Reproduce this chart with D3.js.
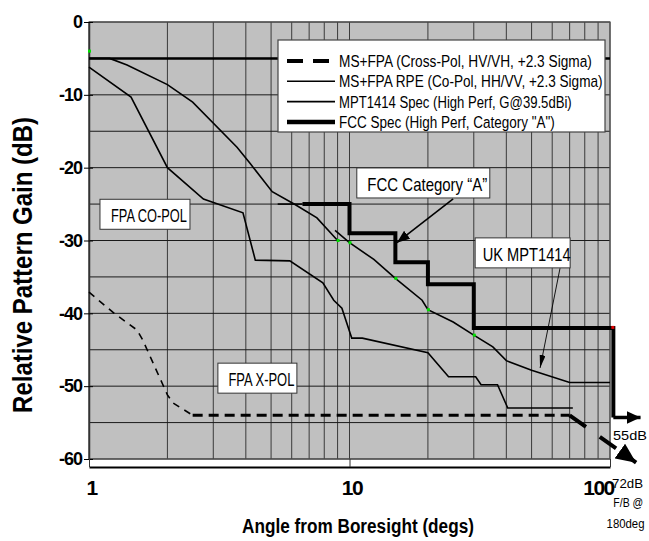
<!DOCTYPE html>
<html>
<head>
<meta charset="utf-8">
<script src="https://cdn.jsdelivr.net/npm/d3@7"></script>
<style>
  body { margin: 0; background: #fff; }
  svg { display: block; font-family: "Liberation Sans", Arial, sans-serif; }
</style>
</head>
<body>
<div id="chart"></div>
<script>
// Axis ticks
const angleTicks = [1, 10, 100];
const gainTicks = [0, -10, -20, -30, -40, -50, -60];

// [angle (deg), relative gain (dB)]
const xpolCurve = [[1, -37.1], [1.25, -40], [1.53, -42.3], [1.61, -43.7], [1.91, -49.6],
                   [2, -51.2], [2.1, -52.3], [2.5, -54]];
const xpolFloor = [[2.5, -54], [70, -54]];
const xpolBackLobe = [[70, -54], [126, -60.5]];

const rpeCoPol = [[1, -6.2], [1.45, -10.3], [2, -20], [2.75, -24.3], [3.9, -26.2], [4.35, -32.7],
                  [5.9, -32.8], [7.9, -35.8], [8.7, -38.2], [9.35, -39.3], [10.2, -43.4], [11.2, -43.4],
                  [20, -45.4], [24, -48.7], [30.5, -48.7], [32, -49.8], [37, -49.8], [40.5, -53], [72, -53]];

const mptMainBeam = [[1, -5], [1.2, -5], [1.4, -5.9], [2, -8.6], [2.5, -11], [3.7, -17.2],
                     [4.15, -19.4], [5.05, -23.3], [6.2, -25.1], [7.5, -26.9], [9, -30]];
const mptSideLobe = [[8.8, -28.6], [10, -30.3], [12.4, -32.6], [15, -35.2], [19, -38.2], [20, -39.5],
                     [25, -41.2], [30, -43], [35.5, -44.6], [40, -46.5], [50, -47.8], [70, -49.5], [100, -49.5]];

const refLevel = [[1, -5], [100, -5]];
const fccLead = [[5.3, -25], [6.6, -25]];
const fccSteps = [[6.6, -25], [10, -25], [10, -29], [15, -29], [15, -33], [20, -33], [20, -36],
                  [30, -36], [30, -42], [103, -42], [103, -54.3]];
const fccBackLobe = [[103, -54.3], [131, -54.3]];

const greenMarks = [[1, -4], [9, -30], [10, -30.3], [15, -35.2], [20, -39.5], [30, -43]];
const redMarks = [[103, -42]];

const legendLabels = [
  "MS+FPA (Cross-Pol, HV/VH, +2.3 Sigma)",
  "MS+FPA RPE (Co-Pol, HH/VV, +2.3 Sigma)",
  "MPT1414 Spec (High Perf, G@39.5dBi)",
  "FCC Spec (High Perf, Category \"A\")"
];

const callouts = [
  { text: "FPA CO-POL", at: [1.64, -26.4], w: 90, tw: 76 },
  { text: "FPA X-POL", at: [4.43, -48.9], w: 79, tw: 66 },
  { text: "FCC Category \u201cA\u201d", at: [19.2, -22.1], w: 133, tw: 120 },
  { text: "UK MPT1414", at: [46.2, -31.7], w: 95, tw: 88 }
];
const calloutArrows = [
  { from: [25, -24.3], to: [15.2, -30.3], marker: "arrowWide", width: 1.6 },
  { from: [64.3, -33.8], to: [53.9, -47.5], marker: "arrowNarrow", width: 0.9 }
];

const sideNotes = [
  { text: "55dB", at: [102.7, -57.4], tw: 34 },
  { text: "72dB", at: [101.8, -64], tw: 31 },
  { text: "F/B @", at: [103, -66.6], tw: 30 },
  { text: "180deg", at: [97, -69.5], tw: 38 }
];

const width = 649, height = 541;
const axisY = 467;

const x = d3.scaleLog().domain([1, 100]).range([89, 610]);
const y = d3.scaleLinear().domain([0, -60]).range([22, 459]);

const svg = d3.select("#chart").append("svg")
    .attr("width", width)
    .attr("height", height);

const defs = svg.append("defs");

function arrowMarker(id, len, half) {
  defs.append("marker")
      .attr("id", id)
      .attr("markerUnits", "userSpaceOnUse")
      .attr("viewBox", `0 ${-half} ${len} ${half * 2}`)
      .attr("refX", len)
      .attr("refY", 0)
      .attr("markerWidth", len)
      .attr("markerHeight", half * 2)
      .attr("orient", "auto")
    .append("path")
      .attr("d", `M0,${-half}L${len},0L0,${half}Z`)
      .attr("fill", "#000");
}
arrowMarker("arrowWide", 13, 5);
arrowMarker("arrowNarrow", 13, 3);
arrowMarker("arrowFcc", 14, 6.5);
arrowMarker("arrowXpol", 20, 9);

// Narrow text to a given width by scaling it horizontally (the original uses squeezed Arial)
function squeezeAt(sel, pos, targetWidth) {
  sel.attr("x", 0).attr("y", 0);
  sel.each(function(d, i) {
    const [px, py] = pos(d, i);
    const k = targetWidth(d, i) / this.getComputedTextLength();
    d3.select(this).attr("transform", `translate(${px},${py}) scale(${k},1)`);
  });
}

// Plot area
const [x0, x1] = x.range();
const [y0, y1] = y.range();

svg.append("rect")
    .attr("x", x0)
    .attr("y", y0)
    .attr("width", x1 - x0)
    .attr("height", y1 - y0)
    .attr("fill", "#c0c0c0");

svg.append("g")
    .selectAll("line")
    .data(x.ticks())
    .join("line")
    .attr("x1", d => x(d))
    .attr("x2", d => x(d))
    .attr("y1", y0)
    .attr("y2", y1)
    .attr("stroke", "#3a3a3a")
    .attr("stroke-width", 1);

svg.append("g")
    .selectAll("line")
    .data(y.ticks(12))
    .join("line")
    .attr("x1", x0)
    .attr("x2", x1)
    .attr("y1", d => y(d))
    .attr("y2", d => y(d))
    .attr("stroke", "#1a1a1a")
    .attr("stroke-width", 1);

svg.append("rect")
    .attr("x", x0)
    .attr("y", y0)
    .attr("width", x1 - x0)
    .attr("height", y1 - y0)
    .attr("fill", "none")
    .attr("stroke", "#555")
    .attr("stroke-width", 1.2);

// Axes
const yAxis = svg.append("g")
    .attr("transform", `translate(${x0},0)`)
    .call(d3.axisLeft(y).tickValues(gainTicks).tickFormat(d => d).tickSize(5).tickSizeOuter(0).tickPadding(2));
yAxis.select(".domain").attr("stroke", "#333").attr("stroke-width", 1.5);
yAxis.selectAll(".tick line").attr("stroke", "#000").attr("x2", -5).attr("x1", 4);
yAxis.selectAll("text")
    .attr("font-family", "Liberation Sans, Arial, sans-serif")
    .attr("font-size", 18)
    .attr("font-weight", "bold")
    .attr("letter-spacing", -1)
    .attr("fill", "#000");

const xAxis = svg.append("g")
    .attr("transform", `translate(0,${axisY})`)
    .call(d3.axisBottom(x).tickValues(angleTicks).tickFormat(d => d).tickSizeInner(-8).tickSizeOuter(0).tickPadding(13));
xAxis.select(".domain").attr("stroke", "#000").attr("stroke-width", 2);
xAxis.selectAll(".tick line").attr("stroke", "#333");
xAxis.selectAll("text")
    .attr("font-family", "Liberation Sans, Arial, sans-serif")
    .attr("font-size", 21)
    .attr("font-weight", "bold")
    .attr("letter-spacing", -1.5)
    .attr("dx", d => d === 100 ? -12 : 2)
    .attr("fill", "#000");

svg.append("text")
    .attr("text-anchor", "middle")
    .attr("font-size", 21)
    .attr("font-weight", "bold")
    .text("Angle from Boresight (degs)")
    .call(squeezeAt, () => [358, 533], () => 232);

svg.append("g")
    .attr("transform", "translate(32,265) rotate(-90)")
  .append("text")
    .attr("text-anchor", "middle")
    .attr("font-size", 27)
    .attr("font-weight", "bold")
    .text("Relative Pattern Gain (dB)")
    .call(squeezeAt, () => [0, 0], () => 296);

// Series
const line = d3.line()
    .x(d => x(d[0]))
    .y(d => y(d[1]));

function drawSeries(data, strokeWidth, dash, marker) {
  svg.append("path")
      .datum(data)
      .attr("d", line)
      .attr("fill", "none")
      .attr("stroke", "#000")
      .attr("stroke-width", strokeWidth)
      .attr("stroke-dasharray", dash)
      .attr("stroke-linejoin", "miter")
      .attr("marker-end", marker ? `url(#${marker})` : null);
}

drawSeries(refLevel, 2.5);
drawSeries(mptMainBeam, 1.6);
drawSeries(mptSideLobe, 1.6);
drawSeries(rpeCoPol, 1.6);
drawSeries(xpolCurve, 1.6, "7,6");
drawSeries(xpolFloor, 3, "10,6");
drawSeries(xpolBackLobe, 4, "20,17", "arrowXpol");
drawSeries(fccLead, 1.6);
drawSeries(fccSteps, 4);
drawSeries(fccBackLobe, 3.5, null, "arrowFcc");

svg.append("g")
    .selectAll("rect")
    .data(greenMarks)
    .join("rect")
    .attr("x", d => x(d[0]) - 1)
    .attr("y", d => y(d[1]) - 1.5)
    .attr("width", 3)
    .attr("height", 3)
    .attr("fill", "#00e000");

svg.append("g")
    .selectAll("rect")
    .data(redMarks)
    .join("rect")
    .attr("x", d => x(d[0]) - 2)
    .attr("y", d => y(d[1]) - 2)
    .attr("width", 3)
    .attr("height", 3)
    .attr("fill", "#e00000");

// Callouts
calloutArrows.forEach(a => {
  svg.append("line")
      .attr("x1", x(a.from[0]))
      .attr("y1", y(a.from[1]))
      .attr("x2", x(a.to[0]))
      .attr("y2", y(a.to[1]))
      .attr("stroke", "#000")
      .attr("stroke-width", a.width)
      .attr("marker-end", `url(#${a.marker})`);
});

const boxes = svg.append("g")
    .selectAll("g")
    .data(callouts)
    .join("g")
    .attr("transform", d => `translate(${x(d.at[0])},${y(d.at[1])})`);

boxes.append("rect")
    .attr("x", d => -d.w / 2)
    .attr("y", -15)
    .attr("width", d => d.w)
    .attr("height", 30)
    .attr("fill", "#fff")
    .attr("stroke", "#333")
    .attr("stroke-width", 1);

boxes.append("text")
    .attr("text-anchor", "middle")
    .attr("font-size", 18)
    .text(d => d.text)
    .call(squeezeAt, () => [4, 8], d => d.tw);

svg.append("g")
    .selectAll("text")
    .data(sideNotes)
    .join("text")
    .attr("font-size", 13)
    .text(d => d.text)
    .call(squeezeAt, d => [x(d.at[0]), y(d.at[1])], d => d.tw);

// Legend
const legendWidths = [253, 264, 233, 216];
const legendStyles = [
  { w: 4, dash: "16,10", x2: 331 },
  { w: 1.6, dash: null, x2: 335 },
  { w: 1.6, dash: null, x2: 335 },
  { w: 4.5, dash: null, x2: 335 }
];

const legend = svg.append("g");
legend.append("rect")
    .attr("x", 278)
    .attr("y", 40)
    .attr("width", 327)
    .attr("height", 92)
    .attr("fill", "#fff")
    .attr("stroke", "#444")
    .attr("stroke-width", 1.2);

const rows = legend.selectAll("g")
    .data(legendLabels)
    .join("g")
    .attr("transform", (d, i) => `translate(0,${61 + i * 20.3})`);

rows.append("line")
    .attr("x1", 287)
    .attr("x2", (d, i) => legendStyles[i].x2)
    .attr("stroke", "#000")
    .attr("stroke-width", (d, i) => legendStyles[i].w)
    .attr("stroke-dasharray", (d, i) => legendStyles[i].dash);

rows.append("text")
    .attr("font-size", 17)
    .text(d => d)
    .call(squeezeAt, () => [339, 6], (d, i) => legendWidths[i]);
</script>
</body>
</html>
